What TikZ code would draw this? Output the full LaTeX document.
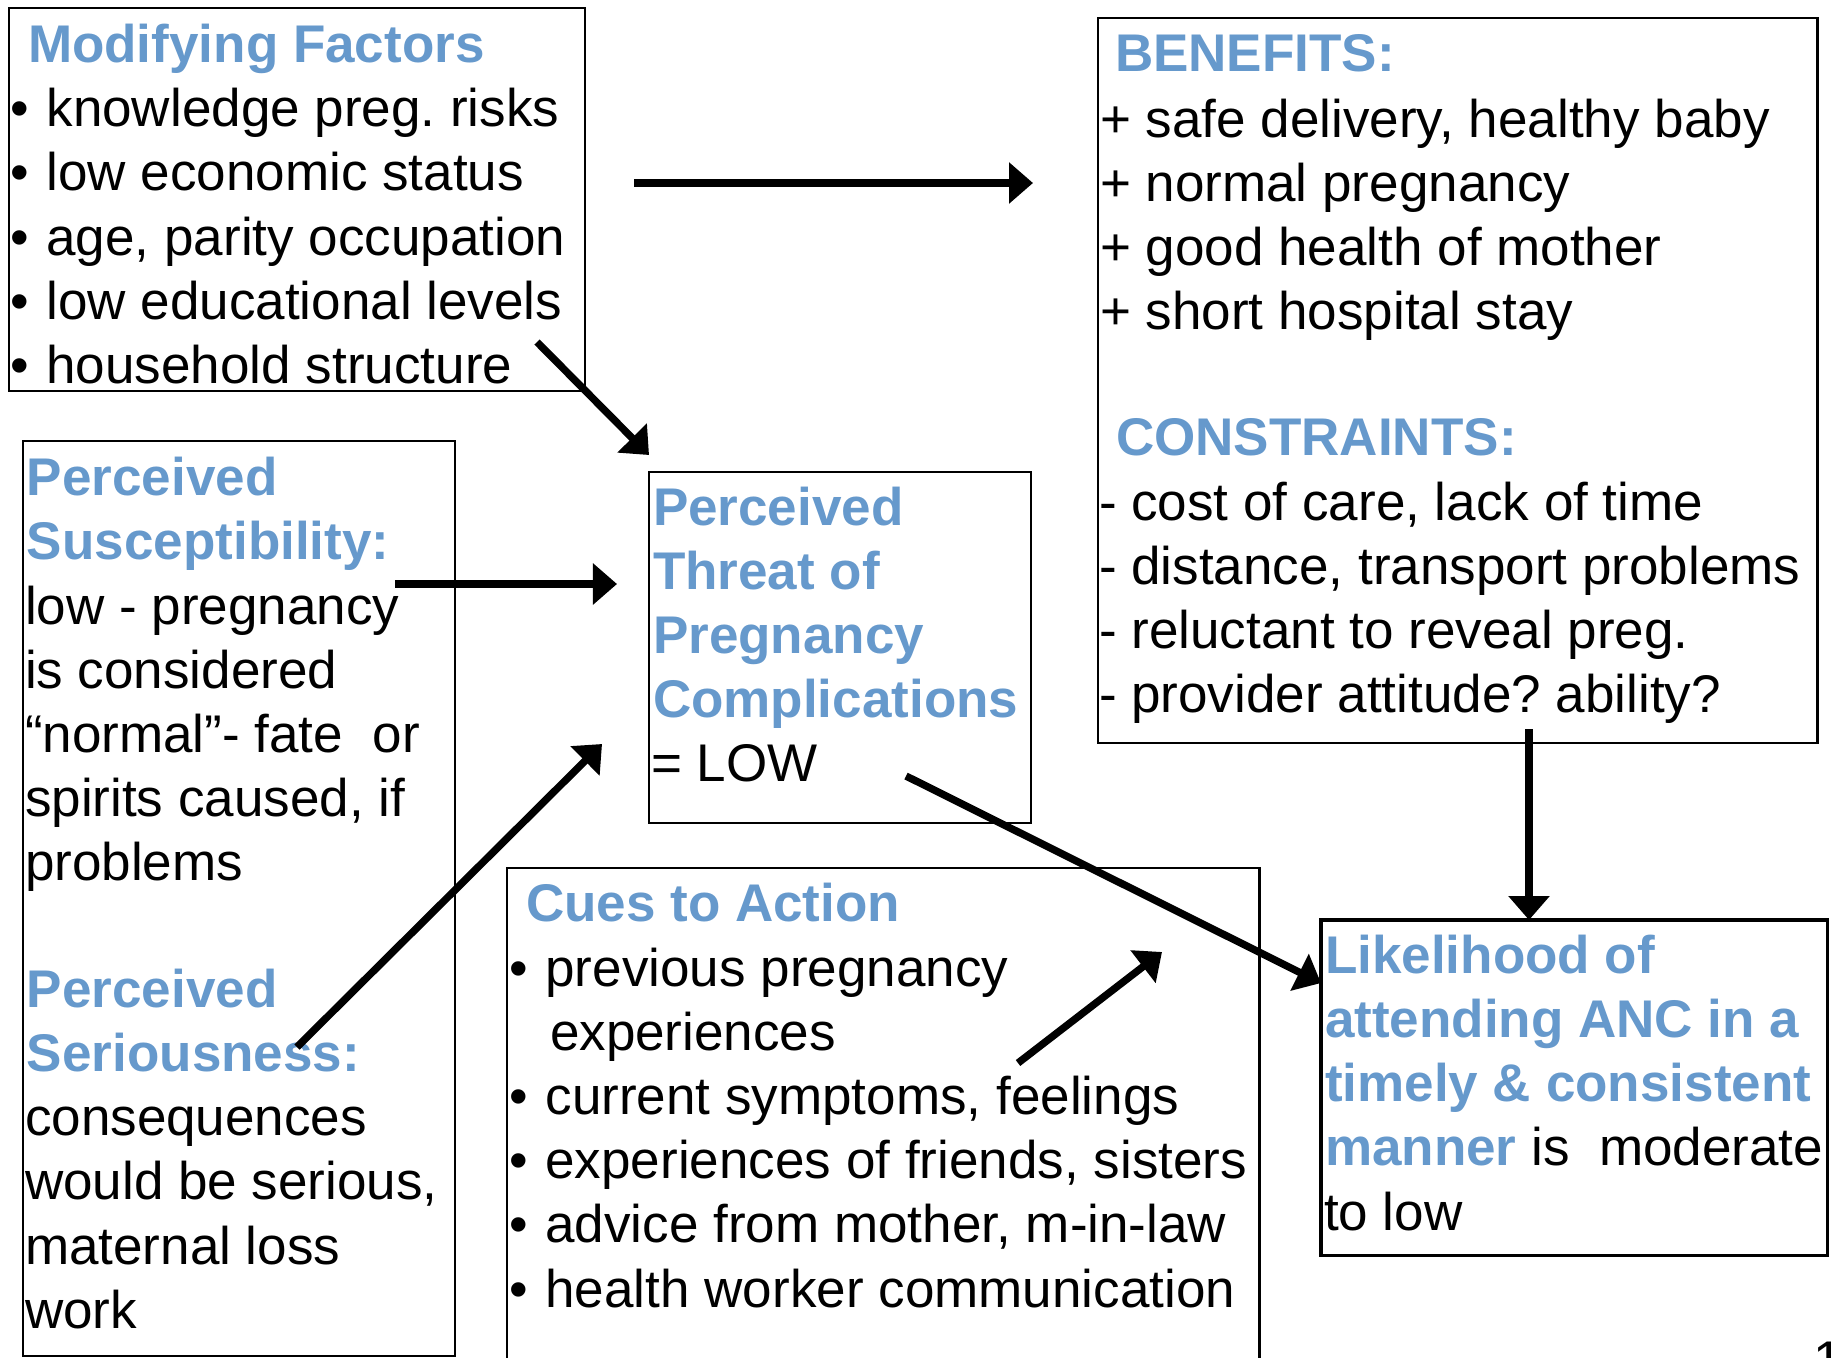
\documentclass[tikz,border=0pt]{standalone}
\usepackage{fontspec}
\setmainfont{Liberation Sans}
\usetikzlibrary{arrows.meta}
\definecolor{hblue}{RGB}{102,153,204}
\newcommand\myfs{\fontsize{15.08pt}{18.2pt}\selectfont\frenchspacing}
\newcommand\bul{\makebox[0.365cm][l]{•}}
\tikzset{
  box/.style={draw=black, line width=0.6pt, inner sep=0pt, outer sep=0pt, anchor=north west},
  txt/.style={anchor=base west, inner sep=0pt, outer sep=0pt, font=\myfs, text=black},
  hd/.style={txt, font=\myfs\bfseries, text=hblue},
  arr/.style={-{Triangle[length=0.24cm,width=0.40cm]}, line width=2.1pt},
}
\begin{document}
\begin{tikzpicture}[x=0.01cm, y=-0.01cm]
\useasboundingbox (0,0) rectangle (1831,1357);
\fill[white] (0,0) rectangle (1831,1357);

% boxes
\node[box, minimum width=5.76cm, minimum height=3.83cm] (mfbox) at (9,8) {};
\node[box, minimum width=7.19cm, minimum height=7.25cm] (benbox) at (1098,18) {};
\node[box, minimum width=4.32cm, minimum height=9.14cm] (psbox) at (23,441) {};
\node[box, minimum width=3.82cm, minimum height=3.51cm] (ptbox) at (649,472) {};
\node[box, minimum width=7.52cm, minimum height=5.30cm] (cuebox) at (507,868) {};
\node[box, line width=0.9pt, minimum width=5.06cm, minimum height=3.35cm] (likbox) at (1321,920) {};

% Modifying factors
\node[hd] (mfh) at (28,62) {Modifying Factors};
\node[txt] (mf1) at (10,126) {\bul knowledge preg. risks};
\node[txt] (mf2) at (10,190) {\bul low economic status};
\node[txt] (mf3) at (10,255) {\bul age, parity occupation};
\node[txt] (mf4) at (10,319) {\bul low educational levels};
\node[txt] (mf5) at (10,383) {\bul household structure};

% Benefits / constraints
\node[hd] (benh) at (1115,71) {BENEFITS:};
\node[txt] (ben1) at (1100,137) {+ safe delivery, healthy baby};
\node[txt] (ben2) at (1100,201) {+ normal pregnancy};
\node[txt] (ben3) at (1100,265) {+ good health of mother};
\node[txt] (ben4) at (1100,329) {+ short hospital stay};
\node[hd] (conh) at (1116,455) {CONSTRAINTS:};
\node[txt] (con1) at (1099,520) {- cost of care, lack of time};
\node[txt] (con2) at (1099,584) {- distance, transport problems};
\node[txt] (con3) at (1099,648) {- reluctant to reveal preg.};
\node[txt] (con4) at (1099,712) {- provider attitude? ability?};

% Perceived susceptibility / seriousness
\node[hd] (ps1) at (27,495) {Perceived};
\node[hd] (ps2) at (27,559) {Susceptibility:};
\node[txt] (ps3) at (25,624) {low - pregnancy};
\node[txt] (ps4) at (25,688) {is considered};
\node[txt] (ps5) at (25,752) {“normal”- fate~ or};
\node[txt] (ps6) at (25,816) {spirits caused, if};
\node[txt] (ps7) at (25,880) {problems};
\node[hd] (ps8) at (27,1007) {Perceived};
\node[hd] (ps9) at (27,1071) {Seriousness:};
\node[txt] (ps10) at (25,1135) {consequences};
\node[txt] (ps11) at (25,1199) {would be serious,};
\node[txt] (ps12) at (25,1264) {maternal loss};
\node[txt] (ps13) at (25,1328) {work};

% Perceived threat
\node[hd] (pt1) at (653,525) {Perceived};
\node[hd] (pt2) at (653,589) {Threat of};
\node[hd] (pt3) at (653,653) {Pregnancy};
\node[hd] (pt4) at (653,717) {Complications};
\node[txt] (pt5) at (651,781) {= LOW};

% Cues to action
\node[hd] (cueh) at (526,921) {Cues to Action};
\node[txt] (cue1) at (509,986) {\bul previous pregnancy};
\node[txt] (cue2) at (550,1050) {experiences};
\node[txt] (cue3) at (509,1114) {\bul current symptoms, feelings};
\node[txt] (cue4) at (509,1178) {\bul experiences of friends, sisters};
\node[txt] (cue5) at (509,1242) {\bul advice from mother, m-in-law};
\node[txt] (cue6) at (509,1307) {\bul health worker communication};

% Likelihood
\node[hd] (lik1) at (1325,973) {Likelihood of};
\node[hd] (lik2) at (1325,1037) {attending ANC in a};
\node[hd] (lik3) at (1325,1101) {timely \& consistent};
\node[txt] (lik4) at (1325,1165) {\textcolor{hblue}{\bfseries manner} is~ moderate};
\node[txt] (lik5) at (1324,1230) {to low};

% page number fragment (cut by the page edge, as in the original)
\node[txt] (pgno) at (1813,1378) {1};

% connectors
\coordinate (a1s) at (634,183);
\coordinate (a1e) at (1033,183);
\coordinate (a2s) at (537,342);
\coordinate (a2e) at (649,455);
\coordinate (a3s) at (395,584);
\coordinate (a3e) at (617,584);
\coordinate (a4s) at (297,1047);
\coordinate (a4e) at (602,744);
\coordinate (a5s) at (906,776);
\coordinate (a6s) at (1018,1063);
\coordinate (a6e) at (1162,952);
\coordinate (a7s) at (1529,729);

\draw[arr] (a1s) -- (a1e);
\draw[arr] (a2s) -- (a2e);
\draw[arr] (a3s) -- (a3e);
\draw[arr] (a4s) -- (a4e);
\draw[arr] (a5s) -- (likbox.west |- 0,983);
\draw[arr] (a6s) -- (a6e);
\draw[arr] (a7s) -- (a7s |- likbox.north);
\end{tikzpicture}
\end{document}
